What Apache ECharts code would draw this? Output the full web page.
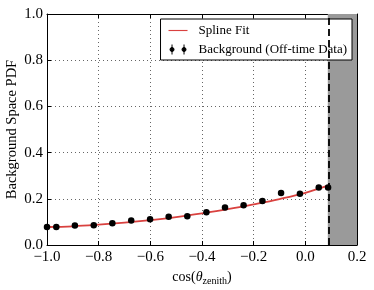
<!DOCTYPE html>
<html><head><meta charset="utf-8">
<script src="https://cdn.jsdelivr.net/npm/echarts@6/dist/echarts.min.js"></script>
<style>html,body{margin:0;padding:0;background:#fff}#c{width:374px;height:290px}</style>
</head><body><div id="c"></div>
<script>
// Data
const pointX = [-1.0, -0.964, -0.892, -0.819, -0.747, -0.674, -0.601, -0.529, -0.457, -0.383, -0.311, -0.239, -0.166, -0.094, -0.021, 0.052, 0.088];
const pointY = [0.078, 0.078, 0.084, 0.086, 0.094, 0.106, 0.112, 0.122, 0.125, 0.142, 0.162, 0.172, 0.190, 0.225, 0.222, 0.249, 0.249];
const splineX = [-1.0, -0.9, -0.8, -0.7, -0.6, -0.5, -0.4, -0.3, -0.2, -0.1, 0.0, 0.087];
const splineY = [0.078, 0.081, 0.088, 0.097, 0.108, 0.121, 0.137, 0.155, 0.176, 0.199, 0.226, 0.257];
const cutX = 0.087;
const xTicks = [-1.0, -0.8, -0.6, -0.4, -0.2, 0.0, 0.2];
const yTicks = [0.0, 0.2, 0.4, 0.6, 0.8, 1.0];

const FONT = 'Liberation Serif';
const fmt = v => { const r = Math.round(v * 10) / 10; return (r < 0 ? '\u2212' : '') + Math.abs(r).toFixed(1); };

const errIcon = 'path://M2,0 L2,10 M0,5 A2,2 0 1,0 4,5 A2,2 0 1,0 0,5 Z M14,0 L14,10 M12,5 A2,2 0 1,0 16,5 A2,2 0 1,0 12,5 Z';

const chart = echarts.init(document.getElementById('c'), null, {renderer: 'canvas'});
const axisCommon = {
  axisLine: {show: true, onZero: false, lineStyle: {color: '#000', width: 1}},
  axisTick: {show: true, inside: true, length: 4, lineStyle: {color: '#000'}},
};
chart.setOption({
  animation: false,
  textStyle: {fontFamily: FONT},
  grid: {left: 47, right: 17, top: 14, bottom: 45, containLabel: false, outerBoundsMode: 'none'},
  legend: {
    show: true,
    right: 22, top: 19,
    orient: 'vertical',
    backgroundColor: '#fff',
    borderColor: '#000', borderWidth: 1, borderRadius: 0,
    padding: [5, 5, 4, 8],
    itemGap: 6,
    itemWidth: 19, itemHeight: 10,
    textStyle: {fontFamily: FONT, fontSize: 13, color: '#000', padding: [0, 0, 0, 6]},
    data: [
      {name: 'Spline Fit', icon: 'path://M0,4.4 L20,4.4 L20,5.6 L0,5.6 Z', itemStyle: {color: '#d9413f'}},
      {name: 'Background (Off-time Data)', icon: errIcon, itemStyle: {color: '#000', borderColor: '#000', borderWidth: 1}}
    ]
  },
  xAxis: [
    Object.assign({
      type: 'value', min: -1.0, max: 0.2, interval: 0.2, position: 'bottom',
      name: '{a|cos(}{t|θ}{s|zenith}{a|)}', nameLocation: 'middle', nameGap: 24,
      nameTextStyle: {rich: {
        a: {fontFamily: FONT, fontSize: 14, color: '#000'},
        t: {fontFamily: FONT, fontSize: 14, fontStyle: 'italic', color: '#000'},
        s: {fontFamily: FONT, fontSize: 10, color: '#000', verticalAlign: 'bottom', padding: [7, 0, 0, 0]}
      }},
      axisLabel: {formatter: fmt, color: '#000', fontSize: 15, fontFamily: FONT, margin: 5},
      splitLine: {show: true, lineStyle: {color: '#666', type: [1, 3], width: 1}}
    }, axisCommon),
    Object.assign({
      type: 'value', min: -1.0, max: 0.2, interval: 0.2, position: 'top',
      axisLabel: {show: false}, splitLine: {show: false}
    }, axisCommon)
  ],
  yAxis: [
    Object.assign({
      type: 'value', min: 0, max: 1.0, interval: 0.2, position: 'left',
      name: 'Background Space PDF', nameLocation: 'middle', nameGap: 27, nameMoveOverlap: false,
      nameTextStyle: {fontFamily: FONT, fontSize: 14.5, color: '#000'},
      axisLabel: {formatter: fmt, color: '#000', fontSize: 15, fontFamily: FONT, margin: 4},
      splitLine: {show: true, lineStyle: {color: '#666', type: [1, 3], width: 1}}
    }, axisCommon),
    Object.assign({
      type: 'value', min: 0, max: 1.0, interval: 0.2, position: 'right',
      axisLabel: {show: false}, splitLine: {show: false}
    }, axisCommon)
  ],
  series: [
    {
      name: 'shade', type: 'line', data: [], silent: true,
      markArea: {silent: true, itemStyle: {color: '#9a9a9a', opacity: 1},
        data: [[{xAxis: cutX}, {xAxis: 0.2}]]},
      markLine: {silent: true, symbol: 'none', label: {show: false},
        lineStyle: {color: '#000', type: [7, 4], width: 1.8},
        data: [{xAxis: cutX}]},
      z: 1
    },
    {
      name: 'Spline Fit', type: 'line', smooth: 0.4, showSymbol: false, symbol: 'none',
      data: splineX.map((x, i) => [x, splineY[i]]),
      lineStyle: {color: '#d9413f', width: 1.8}, itemStyle: {color: '#d9413f'}, z: 3
    },
    {
      name: 'Background (Off-time Data)', type: 'scatter', symbol: 'circle', symbolSize: 6.5,
      data: pointX.map((x, i) => [x, pointY[i]]),
      itemStyle: {color: '#000', opacity: 1}, z: 4
    }
  ]
});
</script>
</body></html>
